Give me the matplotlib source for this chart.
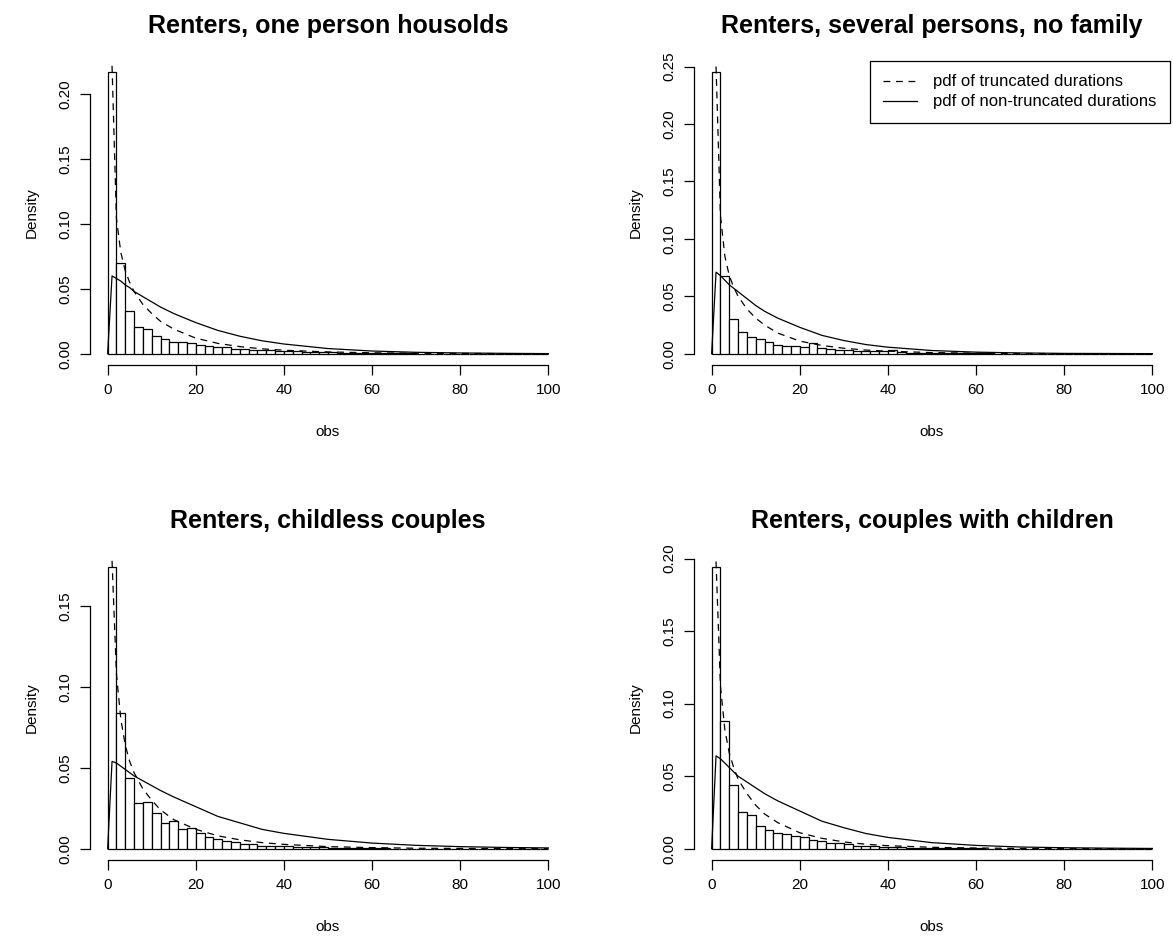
import numpy as np
import matplotlib.pyplot as plt
from matplotlib.lines import Line2D

plt.rcParams['font.family'] = ['Liberation Sans', 'DejaVu Sans']

# Межі бінів гістограми (ширина 2)
bin_edges = np.arange(0, 102, 2)

titles = [
    "Renters, one person housolds",
    "Renters, several persons, no family",
    "Renters, childless couples",
    "Renters, couples with children",
]

# Висоти стовпців (density) для кожної групи
dens_one = [0.217, 0.070, 0.033, 0.021, 0.019, 0.014, 0.011, 0.009, 0.009, 0.008,
            0.007, 0.006, 0.005, 0.005, 0.004, 0.004, 0.003, 0.003, 0.003, 0.002,
            0.002, 0.002, 0.0015, 0.0012, 0.001, 0.001, 0.0008, 0.0006, 0.0005, 0.0005,
            0.0004, 0.0003, 0.0003, 0.0002, 0.0002, 0.0001, 0.0001, 0.0001, 0.0001, 0,
            0, 0, 0, 0, 0, 0, 0, 0, 0, 0]
dens_two = [0.245, 0.068, 0.030, 0.019, 0.015, 0.013, 0.010, 0.008, 0.007, 0.007,
            0.006, 0.009, 0.005, 0.004, 0.003, 0.003, 0.002, 0.002, 0.002, 0.002,
            0.003, 0.0015, 0.001, 0.001, 0.0008, 0.0008, 0.0006, 0.0005, 0.0004, 0.0004,
            0.0008, 0.0003, 0.0002, 0.0002, 0.0001, 0.0001, 0.0001, 0, 0.0001, 0,
            0, 0, 0, 0, 0.0001, 0, 0, 0, 0, 0]
dens_three = [0.174, 0.084, 0.044, 0.028, 0.029, 0.022, 0.016, 0.017, 0.012, 0.013,
              0.010, 0.007, 0.006, 0.005, 0.004, 0.003, 0.003, 0.002, 0.002, 0.002,
              0.002, 0.0012, 0.001, 0.001, 0.0008, 0.0006, 0.0005, 0.0004, 0.0003, 0.0003,
              0.0002, 0.0002, 0.0001, 0.0001, 0.0001, 0, 0, 0, 0, 0,
              0, 0, 0, 0, 0, 0, 0, 0, 0, 0]
dens_four = [0.194, 0.088, 0.044, 0.025, 0.023, 0.016, 0.013, 0.011, 0.010, 0.009,
             0.008, 0.006, 0.005, 0.004, 0.004, 0.003, 0.002, 0.002, 0.002, 0.0015,
             0.001, 0.001, 0.0008, 0.0007, 0.0006, 0.0005, 0.0004, 0.0003, 0.0003, 0.0002,
             0.0002, 0.0001, 0.0001, 0, 0, 0, 0, 0, 0, 0,
             0, 0, 0, 0, 0, 0, 0, 0, 0, 0]

# Точки кривих щільності
trunc_x = [1, 2, 3, 4, 5, 6, 8, 10, 12, 15, 20, 25, 30, 35, 40, 50, 60, 70, 80, 90, 100]
full_x = [0, 1, 2, 3, 4, 5, 6, 8, 10, 12, 15, 20, 25, 30, 35, 40, 50, 60, 70, 80, 90, 100]

trunc_one = [0.222, 0.104, 0.078, 0.064, 0.055, 0.048, 0.038, 0.031, 0.025, 0.019, 0.012,
             0.008, 0.0055, 0.0038, 0.0027, 0.0014, 0.0007, 0.0004, 0.0002, 0.0001, 0.0]
full_one = [0, 0.060, 0.058, 0.056, 0.053, 0.051, 0.048, 0.044, 0.040, 0.036, 0.031,
            0.024, 0.018, 0.0135, 0.010, 0.0075, 0.004, 0.0021, 0.0011, 0.0006, 0.0003, 0.0001]

trunc_two = [0.250, 0.120, 0.085, 0.068, 0.058, 0.050, 0.039, 0.031, 0.025, 0.018, 0.011,
             0.0072, 0.0048, 0.0032, 0.0022, 0.001, 0.0005, 0.0002, 0.0001, 0.0, 0.0]
full_two = [0, 0.071, 0.068, 0.064, 0.060, 0.057, 0.054, 0.048, 0.042, 0.037, 0.031,
            0.023, 0.016, 0.0115, 0.008, 0.0057, 0.0028, 0.0014, 0.0007, 0.0003, 0.0002, 0.0001]

trunc_three = [0.178, 0.108, 0.080, 0.064, 0.054, 0.047, 0.037, 0.030, 0.024, 0.018, 0.012,
               0.008, 0.0055, 0.0038, 0.0027, 0.0013, 0.0007, 0.0003, 0.0002, 0.0001, 0.0]
full_three = [0, 0.054, 0.053, 0.051, 0.049, 0.047, 0.045, 0.042, 0.039, 0.036, 0.032,
              0.026, 0.020, 0.016, 0.012, 0.0095, 0.0058, 0.0035, 0.0021, 0.0013, 0.0008, 0.0005]

trunc_four = [0.198, 0.112, 0.082, 0.066, 0.056, 0.048, 0.038, 0.030, 0.024, 0.018, 0.011,
              0.0072, 0.0047, 0.0031, 0.0021, 0.001, 0.0005, 0.0002, 0.0001, 0.0, 0.0]
full_four = [0, 0.064, 0.062, 0.059, 0.056, 0.053, 0.050, 0.046, 0.042, 0.038, 0.033,
             0.026, 0.019, 0.0145, 0.0105, 0.0078, 0.0042, 0.0023, 0.0012, 0.0007, 0.0004, 0.0002]

y_top_ticks = [0.20, 0.25, 0.15, 0.20]

panels = [
    (dens_one, trunc_one, full_one),
    (dens_two, trunc_two, full_two),
    (dens_three, trunc_three, full_three),
    (dens_four, trunc_four, full_four),
]

# Позиції областей графіків (у частках фігури)
W, H = 1173, 944
positions = [
    (90 / W, 1 - 365 / H, 476 / W, 304 / H),
    (694 / W, 1 - 365 / H, 476 / W, 304 / H),
    (90 / W, 1 - 860 / H, 476 / W, 304 / H),
    (694 / W, 1 - 860 / H, 476 / W, 304 / H),
]

fig = plt.figure(figsize=(W / 100, H / 100), dpi=100)
lw = 0.9
dash = (0, (5.5, 4.5))

for i, (dens, trunc, full) in enumerate(panels):
    ax = fig.add_axes(positions[i])
    ax.bar(bin_edges[:-1], dens, width=2, align='edge', color='white',
           edgecolor='black', linewidth=lw)
    ax.plot(trunc_x, trunc, color='black', linewidth=lw, linestyle=dash)
    ax.plot(full_x, full, color='black', linewidth=lw)

    ymax = max(dens)
    ax.set_xlim(-4, 104)
    ax.set_ylim(-0.04 * ymax, 1.04 * ymax)

    ax.set_xticks(np.arange(0, 101, 20))
    yt = np.arange(0, y_top_ticks[i] + 0.001, 0.05)
    ax.set_yticks(yt)
    ax.set_yticklabels([f"{v:.2f}" for v in yt], rotation=90, va='center')

    for side in ['top', 'right']:
        ax.spines[side].set_visible(False)
    ax.spines['bottom'].set_bounds(0, 100)
    ax.spines['left'].set_bounds(0, y_top_ticks[i])
    ax.spines['bottom'].set_linewidth(lw)
    ax.spines['left'].set_linewidth(lw)
    ax.tick_params(direction='out', length=7, width=lw, labelsize=11, pad=6)

    ax.set_title(titles[i], fontsize=18, fontweight='bold', pad=20)
    ax.set_xlabel("obs", fontsize=11, labelpad=20)
    ax.set_ylabel("Density", fontsize=11, labelpad=14)

    if i == 1:
        handles = [Line2D([], [], color='black', linewidth=lw, linestyle=dash),
                   Line2D([], [], color='black', linewidth=lw)]
        leg = ax.legend(handles, ["pdf of truncated durations",
                                  "pdf of non-truncated durations"],
                        loc='upper right', bbox_to_anchor=(1, 1), borderaxespad=0,
                        fontsize=12, fancybox=False, framealpha=1, edgecolor='black',
                        handlelength=2.0, handletextpad=1.0, labelspacing=0.3,
                        borderpad=0.8)
        leg.get_frame().set_linewidth(lw)

plt.savefig("out.png", dpi=100)
